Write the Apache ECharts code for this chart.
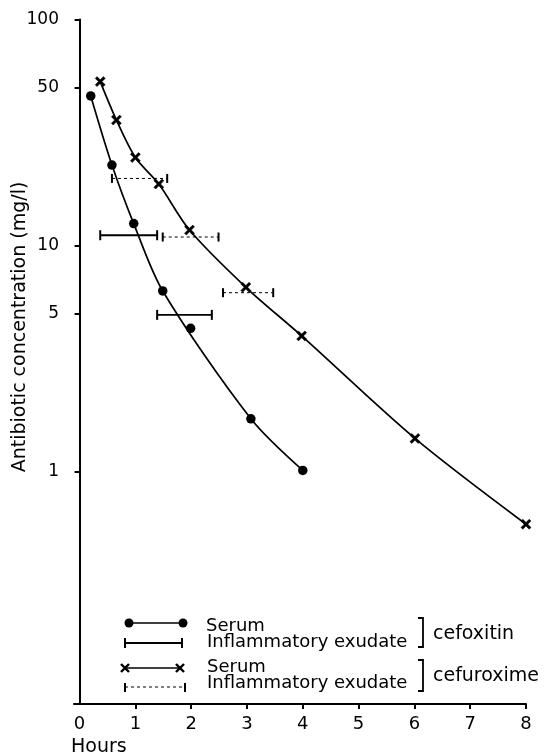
<!DOCTYPE html>
<html>
<head>
<meta charset="utf-8">
<script src="https://cdn.jsdelivr.net/npm/echarts@6/dist/echarts.min.js"></script>
<style>
html,body{margin:0;padding:0;background:#fff}
#chart{width:549px;height:755px}
</style>
</head>
<body>
<div id="chart"></div>
<script>
// tick values
var hourTicks = [1, 2, 3, 4, 5, 6, 7, 8];
var hourLabels = [0, 1, 2, 3, 4, 5, 6, 7, 8];
var concTicks = [1, 5, 10, 50, 100];

// serum, cefoxitin (dots)
var cefoxitinHours = [0.2, 0.58, 0.97, 1.49, 1.99, 3.07, 4.0];
var cefoxitinSerum = [45.9, 22.7, 12.5, 6.29, 4.3, 1.71, 1.01];
var cefoxitinCurveIdx = [0, 1, 2, 3, 5, 6]; // the 2 h dot sits off the drawn curve

// serum, cefuroxime (crosses)
var cefuroximeHours = [0.37, 0.66, 1.0, 1.42, 1.97, 2.98, 3.98, 6.01, 8.0];
var cefuroximeSerum = [53.1, 35.9, 24.5, 18.7, 11.7, 6.53, 3.98, 1.4, 0.584];

// inflammatory exudate, time ranges
var cefoxitinExudateFrom = [0.37, 1.39];
var cefoxitinExudateTo = [1.39, 2.37];
var cefoxitinExudate = [11.1, 4.93];

var cefuroximeExudateFrom = [0.58, 1.49, 2.57];
var cefuroximeExudateTo = [1.57, 2.49, 3.47];
var cefuroximeExudate = [19.8, 10.9, 6.18];

var FONT = 'DejaVu Sans';
var CROSS = 'path://M0,1.8L1.8,0L5,3.2L8.2,0L10,1.8L6.8,5L10,8.2L8.2,10L5,6.8L1.8,10L0,8.2L3.2,5Z';

function zip(xs, ys) {
  return xs.map(function (x, i) { return [x, ys[i]]; });
}
function ranges(from, to, ys) {
  return from.map(function (f, i) { return [f, to[i], ys[i]]; });
}

function rangeBar(dashed) {
  return function (params, api) {
    var a = api.coord([api.value(0), api.value(2)]);
    var b = api.coord([api.value(1), api.value(2)]);
    var h = dashed ? 4.5 : 5;
    var capStyle = {stroke: '#000', lineWidth: 2};
    return {
      type: 'group',
      children: [
        {type: 'line', shape: {x1: a[0], y1: a[1], x2: b[0], y2: b[1]},
          style: {stroke: '#000', lineWidth: dashed ? 1 : 1.8, lineDash: dashed ? [3, 3] : null}},
        {type: 'line', shape: {x1: a[0], y1: a[1] - h, x2: a[0], y2: a[1] + h}, style: capStyle},
        {type: 'line', shape: {x1: b[0], y1: b[1] - h, x2: b[0], y2: b[1] + h}, style: capStyle}
      ]
    };
  };
}

var chart = echarts.init(document.getElementById('chart'));

var txt = {fontFamily: FONT, fontSize: 18, fill: '#000'};
function legendText(x, y, s, size) {
  return {type: 'text', x: x, y: y,
    style: Object.assign({text: s, textAlign: 'left', textVerticalAlign: 'middle'}, txt, size ? {fontSize: size} : {})};
}
function seg(x1, y1, x2, y2, w, dash) {
  return {type: 'line', shape: {x1: x1, y1: y1, x2: x2, y2: y2},
    style: {stroke: '#000', lineWidth: w, lineDash: dash || null}};
}
function crossMark(cx, cy) {
  return {type: 'group', children: [
    seg(cx - 4, cy - 4, cx + 4, cy + 4, 2.4),
    seg(cx + 4, cy - 4, cx - 4, cy + 4, 2.4)
  ]};
}

var legendGraphics = [
  // cefoxitin serum
  seg(129, 623, 183, 623, 1.5),
  {type: 'circle', shape: {cx: 129, cy: 623, r: 4.5}, style: {fill: '#000'}},
  {type: 'circle', shape: {cx: 183, cy: 623, r: 4.5}, style: {fill: '#000'}},
  // cefoxitin exudate
  seg(125, 643, 182, 643, 1.8),
  seg(125, 638, 125, 648, 2),
  seg(182, 638, 182, 648, 2),
  // cefuroxime serum
  seg(125, 668, 180, 668, 1.5),
  crossMark(125, 668),
  crossMark(180, 668),
  // cefuroxime exudate
  seg(125, 687, 185, 687, 1, [3, 3]),
  seg(125, 683, 125, 692, 2),
  seg(185, 683, 185, 692, 2),
  legendText(206, 626, 'Serum'),
  legendText(207, 642, 'Inflammatory exudate'),
  legendText(207, 667, 'Serum'),
  legendText(207, 683, 'Inflammatory exudate'),
  {type: 'polyline', shape: {points: [[418, 618], [423, 618], [423, 647], [418, 647]]},
    style: {stroke: '#000', lineWidth: 1.8, fill: null}},
  {type: 'polyline', shape: {points: [[418, 660], [423, 660], [423, 691], [418, 691]]},
    style: {stroke: '#000', lineWidth: 1.8, fill: null}},
  legendText(433, 634, 'cefoxitin', 19),
  legendText(433, 676, 'cefuroxime', 19),
  // axis titles
  {type: 'text', x: 20, y: 327, rotation: Math.PI / 2,
    style: Object.assign({text: 'Antibiotic concentration (mg/l)', textAlign: 'center', textVerticalAlign: 'middle'}, txt, {fontSize: 19})},
  legendText(71, 747, 'Hours', 19)
];

var option = {
  backgroundColor: '#fff',
  animation: false,
  grid: {left: 74, right: 23, top: 19.5, bottom: 51},
  xAxis: {
    type: 'value',
    min: -0.1,
    max: 8,
    axisLine: {lineStyle: {color: '#000', width: 2}},
    axisTick: {customValues: hourTicks, length: 5, lineStyle: {color: '#000', width: 2}},
    axisLabel: {customValues: hourLabels, margin: 11, color: '#000', fontFamily: FONT, fontSize: 18},
    splitLine: {show: false}
  },
  yAxis: {
    type: 'log',
    logBase: 10,
    min: 0.0935,
    max: 100,
    axisLine: {lineStyle: {color: '#000', width: 2}},
    axisTick: {customValues: concTicks, length: 5, lineStyle: {color: '#000', width: 2}},
    axisLabel: {customValues: concTicks, margin: 15, color: '#000', fontFamily: FONT, fontSize: 17},
    splitLine: {show: false},
    minorTick: {show: false}
  },
  graphic: legendGraphics,
  series: [
    {
      name: 'Serum cefoxitin curve',
      type: 'line',
      smooth: 0.3,
      symbol: 'none',
      lineStyle: {color: '#000', width: 1.7},
      data: cefoxitinCurveIdx.map(function (i) { return [cefoxitinHours[i], cefoxitinSerum[i]]; }),
      z: 2
    },
    {
      name: 'Serum cefoxitin',
      type: 'scatter',
      symbol: 'circle',
      symbolSize: 9.5,
      itemStyle: {color: '#000', opacity: 1},
      data: zip(cefoxitinHours, cefoxitinSerum),
      z: 3
    },
    {
      name: 'Serum cefuroxime',
      type: 'line',
      smooth: 0.3,
      symbol: CROSS,
      symbolSize: 10,
      showAllSymbol: true,
      itemStyle: {color: '#000', borderColor: '#000', borderWidth: 0.5, opacity: 1},
      lineStyle: {color: '#000', width: 1.7},
      data: zip(cefuroximeHours, cefuroximeSerum),
      z: 3
    },
    {
      name: 'Exudate cefoxitin',
      type: 'custom',
      renderItem: rangeBar(false),
      encode: {x: [0, 1], y: 2},
      data: ranges(cefoxitinExudateFrom, cefoxitinExudateTo, cefoxitinExudate)
    },
    {
      name: 'Exudate cefuroxime',
      type: 'custom',
      renderItem: rangeBar(true),
      encode: {x: [0, 1], y: 2},
      data: ranges(cefuroximeExudateFrom, cefuroximeExudateTo, cefuroximeExudate)
    }
  ]
};

chart.setOption(option);
</script>
</body>
</html>
